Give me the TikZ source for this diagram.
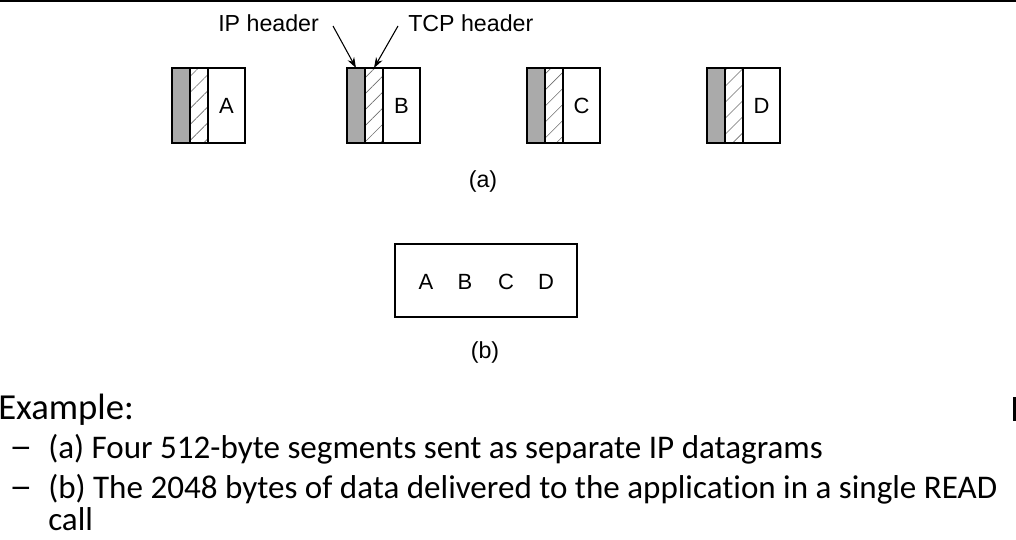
\documentclass[tikz,border=0pt]{standalone}
\usepackage{graphicx}
\usepackage{fontspec}
\setmainfont{Liberation Sans}
\newfontfamily\calib[Ligatures={NoCommon}]{Carlito}
\usetikzlibrary{arrows.meta,patterns.meta}
\definecolor{ipgrey}{RGB}{170,170,170}
\definecolor{hatchgrey}{RGB}{110,110,110}
\tikzset{
  seg/.style={draw=black, line width=1.2pt, inner sep=0pt, outer sep=0pt,
              minimum height=56.25pt, anchor=north west},
  ipstrip/.style={seg, fill=ipgrey, minimum width=13.5pt},
  tcpstrip/.style={seg, minimum width=13.5pt,
     pattern={Lines[angle=45,distance=8.5pt,line width=0.45pt]}, pattern color=hatchgrey},
  datastrip/.style={seg, minimum width=27.75pt, font=\fontsize{16.5}{18}\selectfont},
  lbl/.style={font=\fontsize{17.4}{20}\selectfont, inner sep=0pt},
  letter/.style={font=\fontsize{16.5}{18}\selectfont, inner sep=0pt},
  ptr/.style={line width=0.8pt, -{Stealth[length=8pt,width=5.5pt]}},
  body/.style={font=\calib\fontsize{24.8}{28}\selectfont, inner sep=0pt, anchor=base west},
}
\begin{document}
\begin{tikzpicture}[x=0.75pt,y=-0.75pt]
\useasboundingbox (0,0) rectangle (1016,539);
% top rule and right-edge fragment
\fill[black] (0,0) rectangle (1016,2) ;
\fill[black] (1013,397) rectangle (1016,421);
% segments (a)
\foreach \n/\x in {A/172,B/347,C/527,D/707}{
  \node[ipstrip] (ip\n) at (\x,68) {};
  \node[tcpstrip] (tcp\n) at (ip\n.north east) {};
  \node[datastrip] (d\n) at (tcp\n.north east) {\n};
}
% labels and arrows
\node[lbl, anchor=west] (iplabel) at (218,23) {IP header};
\node[lbl, anchor=west] (tcplabel) at (408,23) {TCP header};
\coordinate (ipstart) at (333,26);
\coordinate (tcpstart) at (398,26);
\draw[ptr] (ipstart) -- (ipB.north);
\draw[ptr] (tcpstart) -- (tcpB.north);
\node[lbl] (capa) at (483,181) {(a)};
% (b)
\node[draw=black, line width=1.2pt, minimum width=136.5pt, minimum height=54.75pt,
      inner sep=0pt, anchor=north west] (whole) at (394,243) {};
\node[letter] (bA) at (426,282) {A};
\node[letter] (bB) at (465,282) {B};
\node[letter] (bC) at (506,282) {C};
\node[letter] (bD) at (546,282) {D};
\node[lbl] (capb) at (485,352) {(b)};
% text
\node[body, font=\calib\fontsize{27.5}{30}\selectfont] (ex) at (-2,419) {Example:};
\node[body] (dash1) at (9,458) {\scalebox{1.4}[1.1]{–}};
\node[body] (la) at (48,458) {(a) Four 512-byte segments sent as separate IP datagrams};
\node[body] (dash2) at (9,498) {\scalebox{1.4}[1.1]{–}};
\node[body] (lb) at (48,498) {(b) The 2048 bytes of data delivered to the application in a single READ};
\node[body] (lc) at (48,530) {call};
\end{tikzpicture}
\end{document}
